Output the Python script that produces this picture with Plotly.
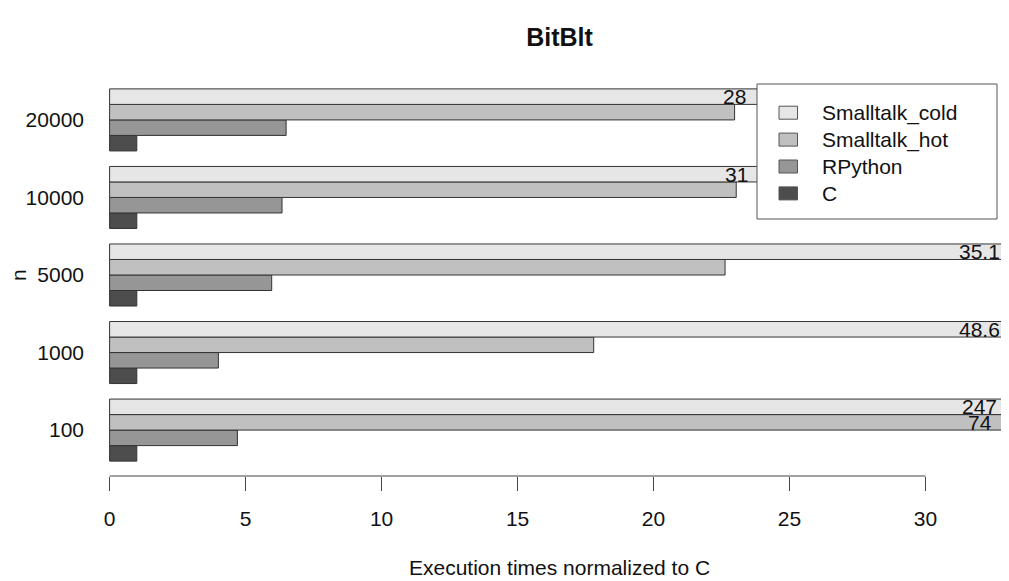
import plotly.graph_objects as go

# ---- data ----
categories = ['100', '1000', '5000', '10000', '20000']
series_names = ['C', 'RPython', 'Smalltalk_hot', 'Smalltalk_cold']
c_vals = [1, 1, 1, 1, 1]
rpython_vals = [4.7, 4.0, 5.96, 6.34, 6.49]
st_hot_vals = [74, 17.8, 22.63, 23.04, 22.98]
st_cold_vals = [247, 48.6, 35.1, 31, 28]
colors = ['#4D4D4D', '#969696', '#C0C0C0', '#E6E6E6']
x_ticks = [0, 5, 10, 15, 20, 25, 30]
label_cutoff = 25

# ---- layout geometry (page has an 8px body margin) ----
OFF = 8
W, H = 1009 - OFF, 581 - OFF
L, R, T, B = 96 - OFF, 0, 74 - OFF, 581 - 476
XMIN, XMAX = -0.5, 33.07
YMIN, YMAX = -0.592, 4.592
PW = W - L - R
PH = H - T - B
FONT = 'Liberation Sans, Arial, Helvetica, sans-serif'
TXT = '#111111'


def px2x(px):
    return (px - OFF - L) / PW


def py2y(py):
    return (H - B - (py - OFF)) / PH


series_vals = [c_vals, rpython_vals, st_hot_vals, st_cold_vals]

fig = go.Figure()
for name, vals, col in zip(series_names, series_vals, colors):
    fig.add_trace(go.Bar(
        y=categories, x=vals, name=name, orientation='h',
        marker=dict(color=col, line=dict(color='#333333', width=1)),
        showlegend=False, hoverinfo='x+name'
    ))

# value labels for bars that run off the chart
offsets = [-0.3, -0.1, 0.1, 0.3]
annotations = []
for si, vals in enumerate(series_vals):
    for gi, v in enumerate(vals):
        if v > label_cutoff:
            if v > XMAX:
                lx = 32.0
            else:
                lx = st_hot_vals[gi]
            annotations.append(dict(
                x=lx, y=gi + offsets[si], xref='x', yref='y',
                text=f'{v:g}', showarrow=False,
                font=dict(size=21, color=TXT, family=FONT),
                xanchor='center', yanchor='middle'
            ))

shapes = []
# x axis line spanning only the tick range
shapes.append(dict(type='line', xref='x', yref='paper',
                   x0=x_ticks[0], x1=x_ticks[-1], y0=0, y1=0,
                   line=dict(color='#444444', width=1)))

# legend box
shapes.append(dict(type='rect', xref='paper', yref='paper', layer='above',
                   x0=px2x(757), x1=px2x(997), y0=py2y(219), y1=py2y(84),
                   fillcolor='white', line=dict(color='#555555', width=1)))
legend_order = list(zip(series_names, colors))[::-1]
for i, (name, col) in enumerate(legend_order):
    cy = 112.7 + i * 26.9
    shapes.append(dict(type='rect', xref='paper', yref='paper', layer='above',
                       x0=px2x(779), x1=px2x(797.5),
                       y0=py2y(cy + 6.5), y1=py2y(cy - 6.5),
                       fillcolor=col, line=dict(color='#555555', width=1)))
    annotations.append(dict(
        x=px2x(820), y=py2y(cy), xref='paper', yref='paper',
        text=name, showarrow=False, xanchor='left', yanchor='middle',
        font=dict(size=21, color=TXT, family=FONT)
    ))

# axis titles
annotations.append(dict(
    x=px2x(559), y=py2y(567), xref='paper', yref='paper',
    text='Execution times normalized to C', showarrow=False,
    xanchor='center', yanchor='middle',
    font=dict(size=21, color=TXT, family=FONT)
))
annotations.append(dict(
    x=px2x(18), y=py2y(275), xref='paper', yref='paper',
    text='n', showarrow=False, textangle=-90,
    xanchor='center', yanchor='middle',
    font=dict(size=21, color=TXT, family=FONT)
))

fig.update_layout(
    width=W, height=H,
    margin=dict(l=L, r=R, t=T, b=B, pad=0),
    paper_bgcolor='white', plot_bgcolor='white',
    barmode='group', bargap=0.2, bargroupgap=0,
    title=dict(text='<b>BitBlt</b>', x=px2x(559.5), xref='paper',
               y=1 - (37 - OFF) / H, yref='container', xanchor='center',
               yanchor='middle',
               font=dict(size=25, color=TXT, family=FONT)),
    xaxis=dict(range=[XMIN, XMAX], tickmode='array', tickvals=x_ticks,
               ticktext=[str(t) for t in x_ticks],
               ticks='outside', ticklen=14, tickcolor='#444444',
               tickwidth=1, showline=False, showgrid=False,
               zeroline=False, ticklabelstandoff=10,
               tickfont=dict(size=21, color=TXT, family=FONT)),
    yaxis=dict(type='category', categoryorder='array',
               categoryarray=categories, range=[YMIN, YMAX],
               ticks='', showline=False, showgrid=False, zeroline=False,
               ticklabelstandoff=11,
               tickfont=dict(size=21, color=TXT, family=FONT)),
    shapes=shapes, annotations=annotations,
    font=dict(family=FONT, color=TXT),
)

fig.write_html('out.html')
